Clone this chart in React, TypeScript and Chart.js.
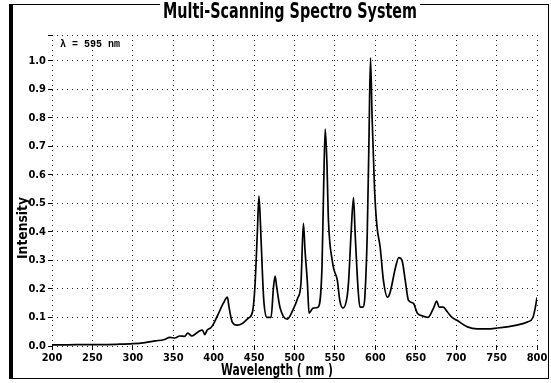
import React, { useEffect, useRef } from "react";
import { Chart, registerables } from "chart.js";

Chart.register(...registerables);

const wavelengths = [
  200, 220, 240, 260, 280, 300, 315, 328, 338, 346, 352, 358, 364, 368, 373, 381, 386, 389, 392, 396,
  399, 405, 412, 417, 419, 423, 429, 436, 443, 448, 451, 454, 456, 458, 460, 462, 466, 471, 474, 476,
  478, 482, 491, 498, 504, 508, 511, 513, 516, 518, 523, 529, 534, 536, 538, 540, 542, 547, 549, 553,
  556, 560, 565, 567, 570, 573, 575, 579, 581, 585, 587, 590, 592, 594, 596, 599, 602, 606, 610, 615,
  618, 625, 629, 633, 637, 641, 647, 652, 659, 665, 672, 676, 679, 684, 689, 695, 701, 714, 726, 738,
  751, 763, 775, 788, 795, 798, 800,
];
const intensity = [
  0.004, 0.004, 0.005, 0.005, 0.006, 0.008, 0.012, 0.018, 0.022, 0.03, 0.028, 0.035, 0.034, 0.045, 0.035, 0.05, 0.056, 0.04, 0.056, 0.063,
  0.073, 0.108, 0.15, 0.171, 0.136, 0.084, 0.073, 0.08, 0.098, 0.119, 0.206, 0.395, 0.525, 0.42, 0.276, 0.16, 0.1, 0.1, 0.206, 0.245,
  0.206, 0.136, 0.094, 0.126, 0.168, 0.22, 0.43, 0.336, 0.22, 0.115, 0.133, 0.136, 0.276, 0.55, 0.76, 0.65, 0.44, 0.294, 0.266, 0.23,
  0.16, 0.133, 0.171, 0.23, 0.395, 0.52, 0.395, 0.185, 0.136, 0.136, 0.171, 0.395, 0.7, 1.01, 0.8, 0.55, 0.42, 0.346, 0.23, 0.171,
  0.185, 0.276, 0.31, 0.3, 0.23, 0.16, 0.15, 0.115, 0.105, 0.1, 0.133, 0.157, 0.136, 0.136, 0.12, 0.1, 0.09, 0.067, 0.06, 0.06,
  0.063, 0.067, 0.073, 0.084, 0.1, 0.136, 0.17,
];
const yTickValues = [0, 0.1, 0.2, 0.3, 0.4, 0.5, 0.6, 0.7, 0.8, 0.9, 1.0];
const xTickValues = [200, 250, 300, 350, 400, 450, 500, 550, 600, 650, 700, 750, 800];
const titleText = "Multi-Scanning Spectro System";
const noteText = "λ = 595 nm";
const xTitle = "Wavelength ( nm )";
const yTitle = "Intensity";

const NARROW = "'Liberation Sans Narrow', 'DejaVu Sans Condensed', 'Liberation Sans', Arial, sans-serif";

if (typeof document !== "undefined") {
  document.body.style.margin = "0";
}

function fitText(ctx: CanvasRenderingContext2D, text: string, cx: number, cy: number, width: number) {
  const w = ctx.measureText(text).width;
  ctx.save();
  ctx.translate(cx, cy);
  ctx.scale(width / w, 1);
  ctx.textAlign = "center";
  ctx.textBaseline = "middle";
  ctx.fillText(text, 0, 0);
  ctx.restore();
}

const decorPlugin = {
  id: "decor",
  beforeDraw(chart: any) {
    const ctx = chart.ctx as CanvasRenderingContext2D;
    ctx.save();
    ctx.fillStyle = "#ffffff";
    ctx.fillRect(0, 0, chart.width, chart.height);
    ctx.restore();
  },
  afterDraw(chart: any) {
    const ctx = chart.ctx as CanvasRenderingContext2D;
    ctx.save();
    // outer frame
    ctx.strokeStyle = "#000";
    ctx.lineWidth = 1;
    ctx.strokeRect(9.5, 4.5, 539, 374);
    ctx.lineWidth = 3;
    ctx.beginPath();
    ctx.moveTo(11.5, 4);
    ctx.lineTo(11.5, 378);
    ctx.stroke();
    // title
    ctx.fillStyle = "#fff";
    ctx.fillRect(160, 2, 260, 20);
    ctx.fillStyle = "#000";
    ctx.font = "bold 21px " + NARROW;
    fitText(ctx, titleText, 290, 13, 254);
    // annotation
    ctx.font = "bold 10px 'Liberation Mono', 'DejaVu Sans Mono', monospace";
    ctx.textAlign = "left";
    ctx.textBaseline = "middle";
    ctx.fillText(noteText, 60, 44);
    // x title
    ctx.font = "bold 15px " + NARROW;
    fitText(ctx, xTitle, 277, 371, 112);
    // y title
    ctx.save();
    ctx.translate(23, 228);
    ctx.rotate(-Math.PI / 2);
    ctx.font = "bold 14px " + NARROW;
    fitText(ctx, yTitle, 0, 0, 62);
    ctx.restore();
    ctx.restore();
  },
};

export default function App() {
  const ref = useRef<HTMLCanvasElement | null>(null);
  useEffect(() => {
    if (!ref.current) return;
    const points = wavelengths.map((x, i) => ({ x, y: intensity[i] }));
    const gridCommon = {
      color: "rgba(0,0,0,0.85)",
      lineWidth: 1,
      borderDash: [1, 4],
      tickLength: 4,
      tickColor: "#000",
      tickBorderDash: [],
    };
    const chart = new Chart(ref.current, {
      type: "line",
      data: {
        datasets: [
          {
            data: points,
            borderColor: "#000",
            borderWidth: 1.7,
            pointRadius: 0,
            fill: false,
            cubicInterpolationMode: "monotone",
          },
        ],
      },
      options: {
        animation: false,
        responsive: false,
        events: [],
        layout: { padding: { left: 0, right: 14, top: 35, bottom: 0 } },
        plugins: { legend: { display: false }, tooltip: { enabled: false }, title: { display: false } },
        scales: {
          x: {
            type: "linear",
            min: 200,
            max: 800,
            afterBuildTicks: (s: any) => {
              s.ticks = xTickValues.map((v) => ({ value: v }));
            },
            afterFit: (s: any) => {
              s.height = 37;
            },
            grid: gridCommon,
            border: { display: false, dash: [1, 4] },
            ticks: {
              color: "#000",
              padding: 2,
              maxRotation: 0,
              autoSkip: false,
              font: { family: NARROW, size: 11, weight: "bold" },
              callback: (v: any) => String(v),
            },
          },
          y: {
            type: "linear",
            min: 0,
            max: 1.09,
            afterBuildTicks: (s: any) => {
              s.ticks = [...yTickValues, 1.09].map((v) => ({ value: v }));
            },
            afterFit: (s: any) => {
              s.width = 52;
            },
            grid: gridCommon,
            border: { display: false, dash: [1, 4] },
            ticks: {
              color: "#000",
              padding: 2,
              autoSkip: false,
              font: { family: NARROW, size: 11, weight: "bold" },
              callback: (v: any) => (Number(v) > 1.05 ? "" : Number(v).toFixed(1)),
            },
          },
        },
      } as any,
      plugins: [decorPlugin],
    });
    return () => chart.destroy();
  }, []);
  return (
    <div style={{ width: 551, height: 383, position: "relative" }}>
      <canvas ref={ref} width={551} height={383} style={{ display: "block" }} />
    </div>
  );
}
